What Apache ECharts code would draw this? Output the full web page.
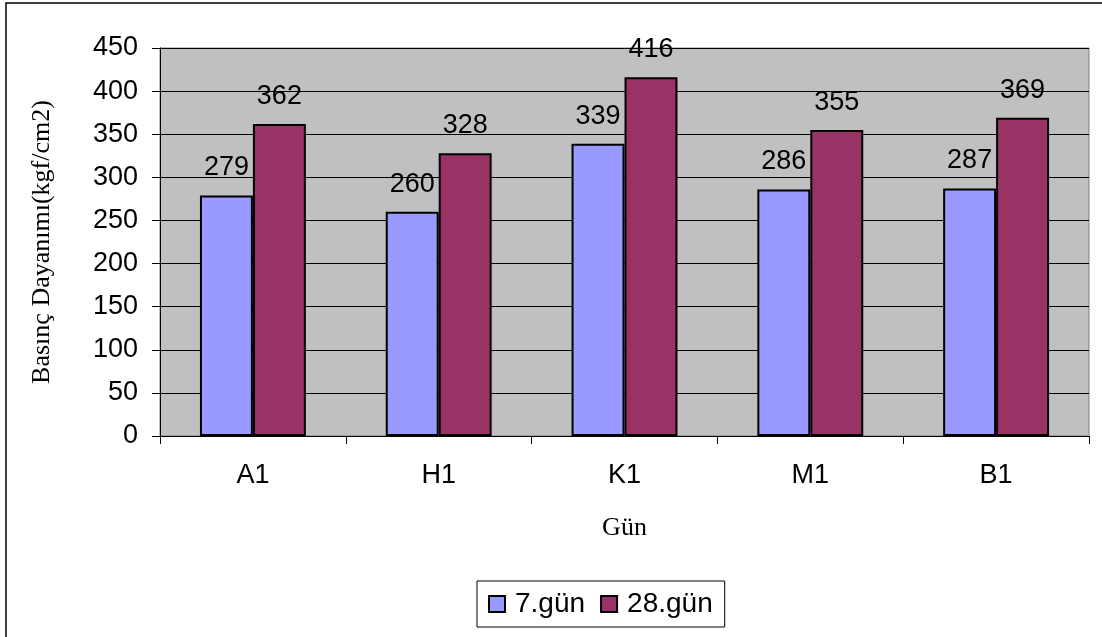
<!DOCTYPE html>
<html>
<head>
<meta charset="utf-8">
<script src="https://cdn.jsdelivr.net/npm/echarts@6/dist/echarts.min.js"></script>
<style>html,body{margin:0;padding:0;background:#fff}#c{width:1102px;height:637px}</style>
</head>
<body>
<div id="c"></div>
<script>
const categories = ['A1', 'H1', 'K1', 'M1', 'B1'];
const gun7 = [279, 260, 339, 286, 287];
const gun28 = [362, 328, 416, 355, 369];
const seriesNames = ['7.gün', '28.gün'];

const chart = echarts.init(document.getElementById('c'));
const sans = 'Liberation Sans, Arial';
const serif = 'Liberation Serif, Times New Roman';
const labelStyle = {show: true, position: 'top', distance: 14, fontFamily: sans, fontSize: 27, color: '#000'};
chart.setOption({
  animation: false,
  backgroundColor: '#fff',
  graphic: [{type: 'rect', shape: {x: 6, y: 3, width: 1200, height: 700}, style: {fill: 'none', stroke: '#000', lineWidth: 1.5}, silent: true, z: -1}],
  grid: {left: 160, right: 13, top: 48, bottom: 201, show: true, backgroundColor: '#C0C0C0', borderColor: '#808080', borderWidth: 1},
  legend: {
    data: seriesNames, left: 477, top: 581, padding: [9, 12, 9, 11], itemGap: 15,
    borderColor: '#000', borderWidth: 1, itemWidth: 16, itemHeight: 16, icon: 'rect',
    textStyle: {fontFamily: sans, fontSize: 28, color: '#000', padding: [0, 0, 0, 5]}
  },
  xAxis: {
    type: 'category', data: categories,
    name: 'Gün', nameLocation: 'middle', nameGap: 79,
    nameTextStyle: {fontFamily: serif, fontSize: 26, color: '#000'},
    axisLine: {lineStyle: {color: '#000', width: 1}},
    axisTick: {show: true, length: 8, lineStyle: {color: '#000'}},
    axisLabel: {fontFamily: sans, fontSize: 27, color: '#000', margin: 26}
  },
  yAxis: {
    type: 'value', min: 0, max: 450, interval: 50,
    name: 'Basınç Dayanımı(kgf/cm2)', nameLocation: 'middle', nameGap: 105,
    nameTextStyle: {fontFamily: serif, fontSize: 26, color: '#000'},
    axisLine: {show: true, lineStyle: {color: '#000'}},
    axisTick: {show: true, length: 8, inside: false, lineStyle: {color: '#000'}},
    axisLabel: {fontFamily: sans, fontSize: 27, color: '#000', margin: 22},
    splitLine: {lineStyle: {color: '#000', width: 1}}
  },
  series: [
    {name: seriesNames[0], type: 'bar', data: gun7, barGap: '0%', barCategoryGap: '43%',
     itemStyle: {color: '#9999FF', borderColor: '#000', borderWidth: 2}, label: labelStyle},
    {name: seriesNames[1], type: 'bar', data: gun28, barGap: '0%', barCategoryGap: '43%',
     itemStyle: {color: '#993366', borderColor: '#000', borderWidth: 2}, label: labelStyle}
  ]
});
</script>
</body>
</html>
